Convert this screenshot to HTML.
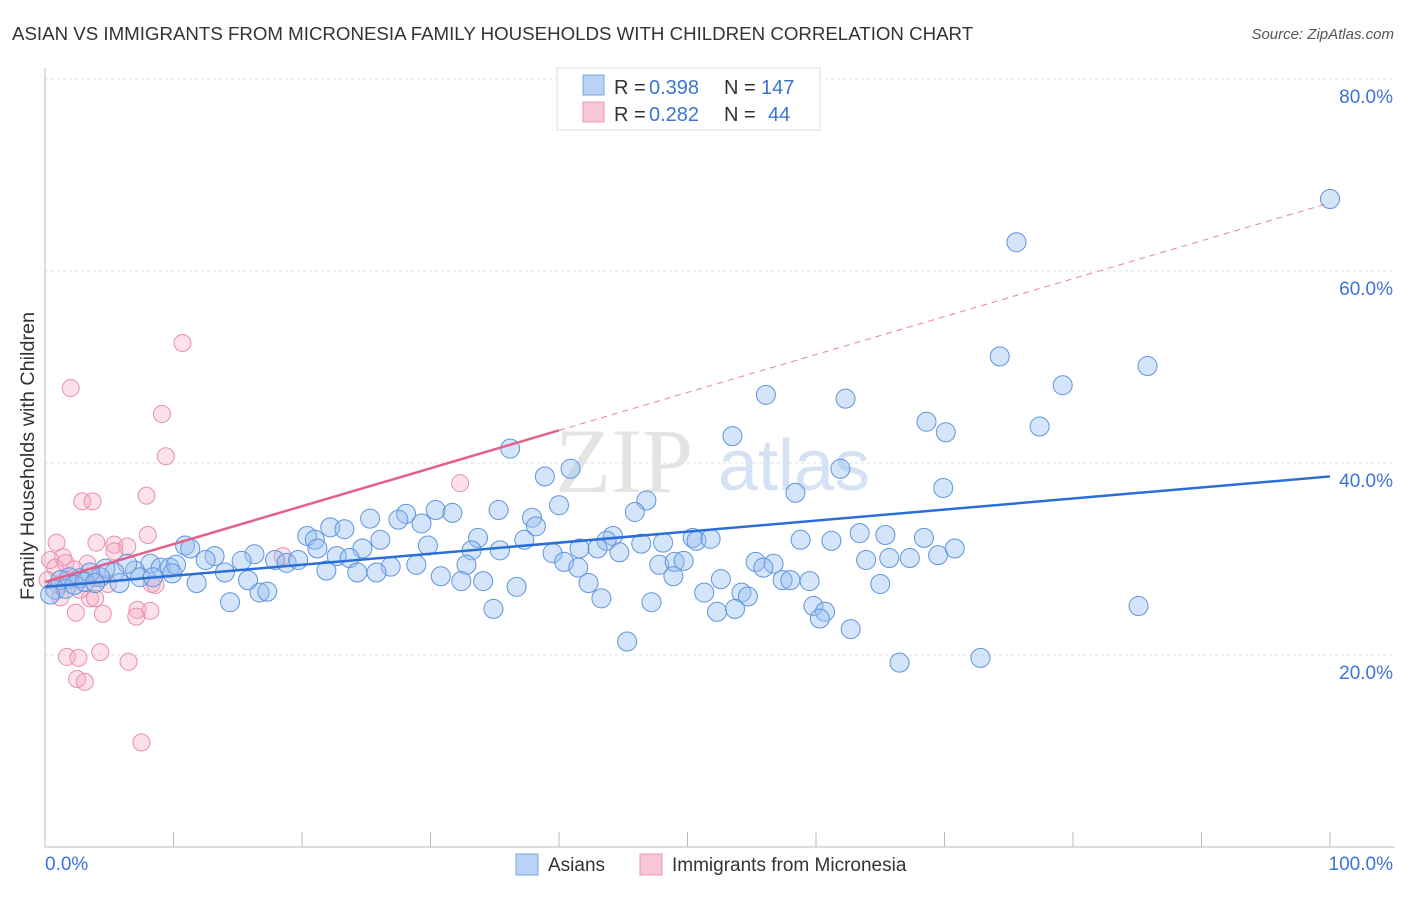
<!DOCTYPE html>
<html><head><meta charset="utf-8"><style>
body{margin:0;background:#fff;font-family:"Liberation Sans",sans-serif}
svg text{font-family:"Liberation Sans",sans-serif}
</style></head><body>
<svg id="chart" width="1406" height="892">
<text x="12" y="40" font-size="18.7" fill="#333">ASIAN VS IMMIGRANTS FROM MICRONESIA FAMILY HOUSEHOLDS WITH CHILDREN CORRELATION CHART</text>
<text x="1394" y="39" font-size="15" fill="#555" font-style="italic" text-anchor="end">Source: ZipAtlas.com</text>
<g id="grid"></g>
<g>
<text x="555" y="492" font-size="92" fill="#e4e4e4" style="font-family:'Liberation Serif',serif">ZIP</text>
<text x="718" y="490" font-size="72" fill="#d4e2f4">atlas</text>
</g>
<line x1="45" y1="68" x2="45" y2="847" stroke="#bbb"/>
<line x1="45" y1="847" x2="1395" y2="847" stroke="#bbb"/>
<g id="ticks"></g>
<g id="pts"></g>
<g id="lines"></g>
<text x="34" y="456" font-size="19.8" fill="#333" text-anchor="middle" transform="rotate(-90 34 456)">Family Households with Children</text>
<text x="45" y="870" font-size="19" fill="#3b74d4">0.0%</text>
<text x="1393" y="870" font-size="19" fill="#3b74d4" text-anchor="end">100.0%</text>
<g>
<rect x="557" y="68" width="263" height="62" fill="#fff" stroke="#ddd"/>
<rect x="583" y="75" width="21" height="20" fill="#b9d3f5" stroke="#7aa5e3"/>
<rect x="583" y="102" width="21" height="20" fill="#f8c6d5" stroke="#ea98b2"/>
<text x="614" y="94" font-size="20" fill="#333">R =</text>
<text x="649" y="94" font-size="20" fill="#3b74d4">0.398</text>
<text x="724" y="94" font-size="20" fill="#333">N =</text>
<text x="761" y="94" font-size="20" fill="#3b74d4">147</text>
<text x="614" y="121" font-size="20" fill="#333">R =</text>
<text x="649" y="121" font-size="20" fill="#3b74d4">0.282</text>
<text x="724" y="121" font-size="20" fill="#333">N =</text>
<text x="768" y="121" font-size="20" fill="#3b74d4">44</text>
</g>
<g>
<rect x="516" y="854" width="22" height="21" fill="#b9d3f5" stroke="#7aa5e3"/>
<text x="548" y="871" font-size="19" fill="#333">Asians</text>
<rect x="640" y="854" width="22" height="21" fill="#f8c6d5" stroke="#ea98b2"/>
<text x="672" y="871" font-size="19" fill="#333">Immigrants from Micronesia</text>
</g>
</svg>
<script>
const yTicks=[20,40,60,80];
const yTickLabels=["20.0%","40.0%","60.0%","80.0%"];
const xTicks=[0,10,20,30,40,50,60,70,80,90,100];
const asianX=[100,75.6,74.3,79.2,85.8,56.1,62.3,68.6,70.1,77.4,53.5,36.2,38.9,40.9,61.9,69.9,58.4,46.8,40.0,35.3,45.9,30.4,31.7,28.1,27.5,25.3,29.3,37.9,38.2,22.2,23.3,20.4,21.0,26.1,33.7,37.3,44.2,43.7,50.4,50.7,51.8,48.1,46.4,58.8,61.2,63.4,65.4,68.4,70.8,69.5,67.3,65.7,63.9,10.9,11.3,13.2,12.5,16.3,15.3,17.9,18.8,19.7,21.2,22.7,24.7,23.7,29.8,33.2,35.4,39.5,41.6,43.0,44.7,40.4,41.5,32.8,28.9,26.9,21.9,24.3,25.8,30.8,32.4,34.1,36.7,42.3,47.8,49.0,49.7,48.9,52.6,55.3,56.7,55.9,57.4,58.0,59.5,65.0,54.2,54.7,51.3,43.3,47.2,52.3,53.7,59.8,60.7,60.3,62.7,34.9,45.3,66.5,72.8,85.1,14.4,16.7,17.3,11.8,14.0,15.8,8.2,9.0,9.7,10.2,7.0,7.4,8.4,9.9,6.4,5.4,4.7,4.3,3.5,2.7,1.9,1.2,0.8,1.6,2.3,3.1,3.9,0.4,5.8];
const asianY=[67.5,63.0,51.1,48.1,50.1,47.1,46.7,44.3,43.2,43.8,42.8,41.5,38.6,39.4,39.4,37.4,36.9,36.1,35.6,35.1,34.9,35.1,34.8,34.7,34.1,34.2,33.7,34.3,33.4,33.3,33.1,32.4,32.0,32.0,32.2,32.0,32.4,31.9,32.2,31.9,32.1,31.7,31.6,32.0,31.9,32.7,32.5,32.2,31.1,30.4,30.1,30.1,29.9,31.4,31.1,30.3,29.9,30.5,29.8,29.9,29.6,29.9,31.1,30.3,31.1,30.1,31.4,30.9,30.9,30.6,31.1,31.1,30.7,29.7,29.1,29.4,29.4,29.2,28.8,28.6,28.6,28.2,27.7,27.7,27.1,27.5,29.4,29.7,29.8,28.2,27.9,29.7,29.5,29.1,27.8,27.8,27.7,27.4,26.5,26.1,26.5,25.9,25.5,24.5,24.8,25.1,24.5,23.8,22.7,24.8,21.4,19.2,19.7,25.1,25.5,26.5,26.6,27.5,28.6,27.8,29.5,29.1,29.1,29.4,28.8,28.1,28.1,28.5,29.5,28.6,29.0,28.1,28.6,28.0,28.1,27.8,26.8,26.9,27.3,27.6,27.5,26.3,27.5];
const micX=[10.7,2.0,9.1,9.4,32.3,2.9,3.7,7.9,8.0,0.9,4.0,5.4,6.4,5.4,1.4,0.4,18.5,3.3,0.8,1.6,2.3,3.9,4.9,8.3,8.6,0.2,1.0,1.2,3.5,3.9,7.2,8.2,7.1,2.4,4.5,1.7,2.6,4.3,6.5,2.5,3.1,7.5,1.8,2.7];
const micY=[52.5,47.8,45.1,40.7,37.9,36.0,36.0,36.6,32.5,31.7,31.7,31.5,31.3,30.8,30.2,29.9,30.3,29.5,29.1,29.6,28.9,28.0,27.4,27.4,27.3,27.8,27.3,26.0,25.9,25.9,24.7,24.6,24.0,24.4,24.3,19.8,19.7,20.3,19.3,17.5,17.2,10.9,27.8,26.8];
const asianTrend=[27.1,38.6];
const micTrend=[27.6,67.1];
const micSolidEnd=40;
const NS="http://www.w3.org/2000/svg";
const sx=v=>45+v*12.85, sy=v=>847-v*9.6;
function mk(tag,attrs,parent){const e=document.createElementNS(NS,tag);for(const k in attrs)e.setAttribute(k,attrs[k]);parent.appendChild(e);return e;}
const grid=document.getElementById('grid');
yTicks.forEach((t,i)=>{
 const l=mk('line',{x1:45,x2:1395,y1:sy(t),y2:sy(t),stroke:'#e2e2e2','stroke-dasharray':'3,3'},grid);
 
 
 const tx=mk('text',{x:1393,y:sy(t)+24,'font-size':19,fill:'#3b74d4','text-anchor':'end'},grid);
 tx.textContent=yTickLabels[i];
 
 
});
const ticks=document.getElementById('ticks');
xTicks.forEach(t=>{const l=mk('line',{x1:sx(t),x2:sx(t),y1:832,y2:847,stroke:'#bbb'},ticks);
 
 });
const pts=document.getElementById('pts');
micX.forEach((x,i)=>{const c=mk('circle',{cx:sx(x),cy:sy(micY[i]),r:8.5,fill:'rgba(246,170,196,0.35)',stroke:'#e890ad','stroke-width':1},pts);
 
 });
asianX.forEach((x,i)=>{const c=mk('circle',{cx:sx(x),cy:sy(asianY[i]),r:9.5,fill:'rgba(150,190,240,0.4)',stroke:'#5f94de','stroke-width':1},pts);
 
 });
const lines=document.getElementById('lines');
const bl=mk('line',{x1:sx(0),y1:sy(asianTrend[0]),x2:sx(100),y2:sy(asianTrend[1]),stroke:'#2a6fd6','stroke-width':2.5},lines);


const mAt=v=>micTrend[0]+(micTrend[1]-micTrend[0])*v/100;
const pl=mk('line',{x1:sx(0),y1:sy(mAt(0)),x2:sx(micSolidEnd),y2:sy(mAt(micSolidEnd)),stroke:'#e4608c','stroke-width':2.5},lines);


const pd=mk('line',{x1:sx(micSolidEnd),y1:sy(mAt(micSolidEnd)),x2:sx(100),y2:sy(mAt(100)),stroke:'#e8809f','stroke-width':1,'stroke-dasharray':'6,5'},lines);


</script>
</body></html>
